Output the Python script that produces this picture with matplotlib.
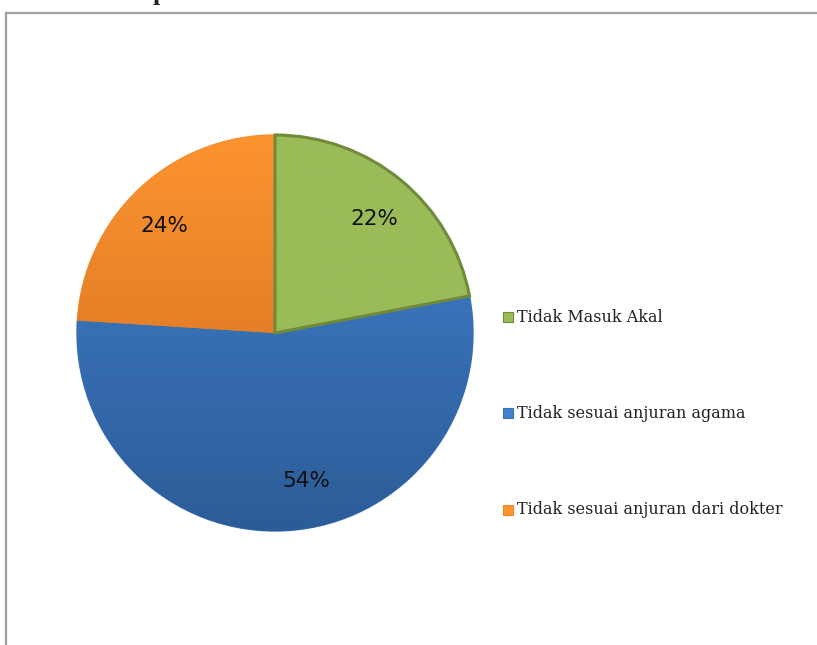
import matplotlib.pyplot as plt
import numpy as np
from matplotlib.colors import LinearSegmentedColormap
from matplotlib.patches import Rectangle
from matplotlib.transforms import offset_copy

# data
labels = ['Tidak Masuk Akal', 'Tidak sesuai anjuran agama', 'Tidak sesuai anjuran dari dokter']
values = [22, 54, 24]

# (top colour, bottom colour, edge colour) per slice
face_top = ['#9bbb59', '#4282d0', '#fd9430']
face_bottom = ['#9bbb59', '#2c5c97', '#ca6a1e']
edge_cols = ['#6f8a3a', '#3a72b8', '#f0862a']
# small nudges (pixels) for the percent labels
label_nudge = [(3, -2), (22, 2), (-8, -3)]

W, H = 817, 645
fig = plt.figure(figsize=(W / 100, H / 100), dpi=100)

# grey frame of the chart area (runs off the right and bottom edges)
fig.add_artist(Rectangle((6 / W, -0.1), 1.2, (H - 13) / H + 0.1,
                         transform=fig.transFigure, fill=False,
                         edgecolor='#a0a0a0', linewidth=1.6))

# bottom of a cut-off title letter
fig.text(160 / W, 1.0, 'p', va='baseline', ha='center', fontsize=19,
         family='Liberation Serif', fontweight='bold', color='#222222')

cx, cy, half = 275, 333, 200
ax = fig.add_axes([(cx - half) / W, (H - cy - half) / H, 2 * half / W, 2 * half / H])

wedges, texts, autotexts = ax.pie(values, startangle=90, counterclock=False,
                                  radius=0.99, autopct='%d%%', pctdistance=0.76,
                                  wedgeprops=dict(linewidth=1.5))

grad = np.linspace(0, 1, 256).reshape(-1, 1)
for i, w in enumerate(wedges):
    cmap = LinearSegmentedColormap.from_list('g%d' % i, [face_top[i], face_bottom[i]])
    w.set_facecolor(face_top[i])
    w.set_edgecolor(edge_cols[i])
    w.set_linewidth(2.2 if i == 0 else 1.0)
    im = ax.imshow(grad, cmap=cmap, extent=(-1, 1, -1, 1), aspect='auto', zorder=w.get_zorder() + 0.1)
    im.set_clip_path(w)
# redraw green edge on top
wedges[0].set_zorder(5)
wedges[0].set_facecolor('none')

for i, t in enumerate(autotexts):
    t.set_fontsize(15.5)
    t.set_color('#111111')
    t.set_zorder(6)
    dx, dy = label_nudge[i]
    t.set_transform(offset_copy(ax.transData, fig=fig, x=dx, y=dy, units='dots'))

ax.set_xlim(-1, 1)
ax.set_ylim(-1, 1)
ax.axis('off')

# legend: square marker + serif label
leg_y = [317, 413, 510]
for i, lab in enumerate(labels):
    fig.add_artist(Rectangle((503 / W, (H - leg_y[i] - 5) / H), 10 / W, 10 / H,
                             transform=fig.transFigure, facecolor=face_top[i],
                             edgecolor=edge_cols[i], linewidth=0.8))
    fig.text(517 / W, (H - leg_y[i]) / H, lab, va='center', ha='left',
             fontsize=11.5, family='DejaVu Serif', color='#222222')

fig.savefig('out.png', dpi=100)
